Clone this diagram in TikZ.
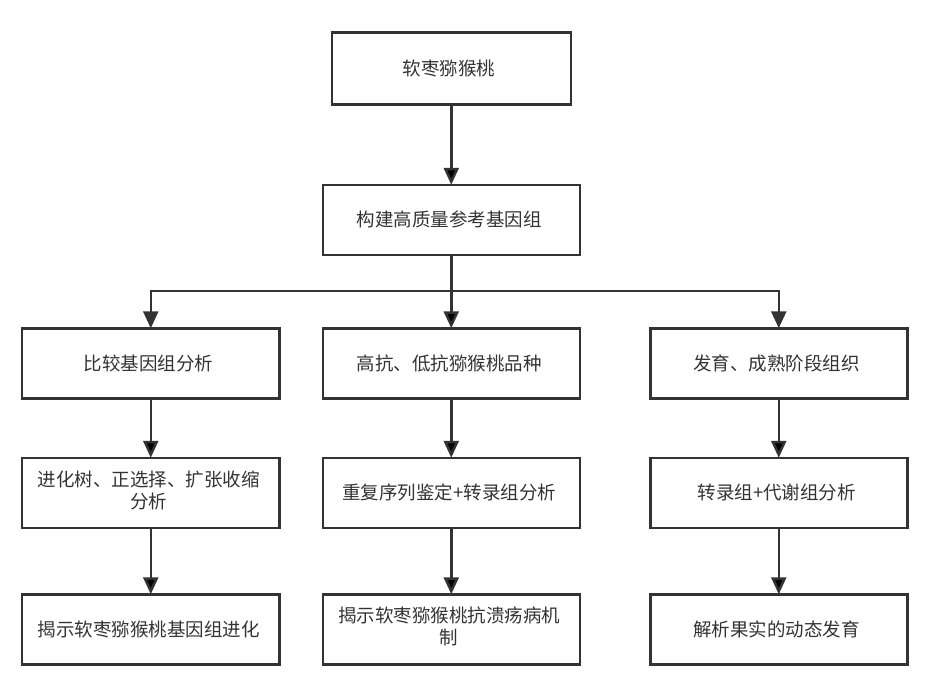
\documentclass[tikz,border=0pt]{standalone}
\usepackage{fontspec}
\newfontfamily\cjk{Noto Sans CJK SC}
\usetikzlibrary{arrows.meta,matrix}
\definecolor{ink}{HTML}{333333}
\newcommand{\twolines}[2]{\begin{tabular}{@{}c@{}}#1\\#2\end{tabular}}

\begin{document}
\begin{tikzpicture}[x=1bp,y=-1bp,
    box/.style={draw=ink,line width=2.5bp,minimum width=257bp,minimum height=70bp,inner sep=0pt,
      anchor=center,align=center,text=ink,font=\cjk\fontsize{18.5bp}{22bp}\selectfont},
    arr/.style={draw=ink,line width=2.5bp,-{Triangle[length=17bp,width=15bp]}}]
  \useasboundingbox (0,0) rectangle (927,681);
  \matrix (m) [matrix of nodes,nodes={box},row sep=0pt,column sep=0pt,inner sep=0pt,outer sep=0pt,
    anchor=north west,ampersand replacement=\&] at (21,31)
   {
     \&[41bp] |[minimum width=239bp,minimum height=72bp]| 软枣猕猴桃 \&[68bp] \\[78bp]
     \&[41bp] 构建高质量参考基因组 \&[68bp] \\[71bp]
     比较基因组分析 \&[41bp] 高抗、低抗猕猴桃品种 \&[68bp] 发育、成熟阶段组织 \\[57bp]
     \twolines{进化树、正选择、扩张收缩}{分析} \&[41bp] 重复序列鉴定+转录组分析 \&[68bp] 转录组+代谢组分析 \\[64bp]
     揭示软枣猕猴桃基因组进化 \&[41bp] \twolines{揭示软枣猕猴桃抗溃疡病机}{制} \&[68bp] 解析果实的动态发育 \\
     };
   \path[arr]
     (m-1-2) edge (m-2-2)
     (m-2-2) edge (m-3-2)
     (m-3-1) edge (m-4-1)
     (m-4-1) edge (m-5-1)
     (m-3-2) edge (m-4-2)
     (m-4-2) edge (m-5-2)
     (m-3-3) edge (m-4-3)
     (m-4-3) edge (m-5-3);
   \draw[arr] (m-2-2.south) -- ++(0,36) coordinate (fork) -| (m-3-1);
   \draw[arr] (fork) -| (m-3-3);
 \end{tikzpicture}
\end{document}
